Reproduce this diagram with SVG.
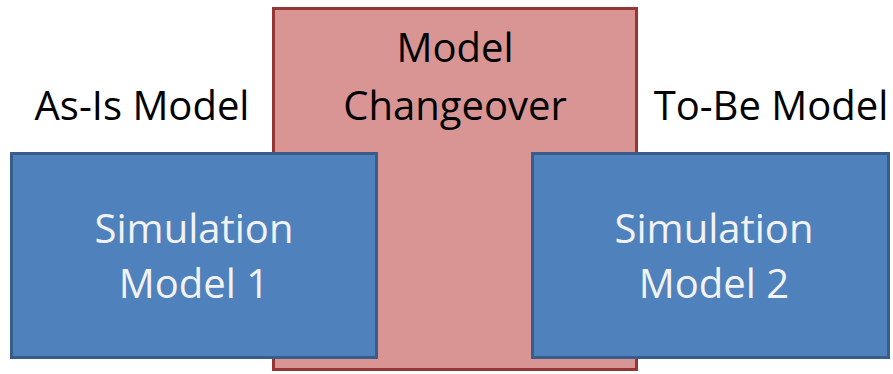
<svg xmlns="http://www.w3.org/2000/svg" width="893" height="374" viewBox="0 0 893 374">
  <style>
    .sim { fill: #4f81bd; stroke: #385d8a; stroke-width: 3; }
    .chg { fill: #d99594; stroke: #943634; stroke-width: 3; }
    .lbl { font-family: "Open Sans", "Liberation Sans", sans-serif; font-size: 40px; text-anchor: middle; }
    .dark { fill: #000000; }
    .light { fill: #f2f2f2; }
  </style>
  <rect width="893" height="374" fill="#ffffff"/>

  <g id="changeover">
    <rect class="chg" x="273.5" y="8.5" width="363" height="361"/>
    <text class="lbl dark" x="455" y="62">Model</text>
    <text class="lbl dark" x="455" y="120">Changeover</text>
  </g>

  <g id="as-is-label">
    <text class="lbl dark" x="142" y="120">As-Is Model</text>
  </g>

  <g id="to-be-label">
    <text class="lbl dark" x="771" y="120">To-Be Model</text>
  </g>

  <g id="sim-model-1">
    <rect class="sim" x="11.5" y="153.5" width="365" height="204"/>
    <text class="lbl light" x="194" y="243">Simulation</text>
    <text class="lbl light" x="194" y="298">Model 1</text>
  </g>

  <g id="sim-model-2">
    <rect class="sim" x="532.5" y="153.5" width="356" height="204"/>
    <text class="lbl light" x="714" y="243">Simulation</text>
    <text class="lbl light" x="714" y="298">Model 2</text>
  </g>

  <g id="connectors"></g>
</svg>
